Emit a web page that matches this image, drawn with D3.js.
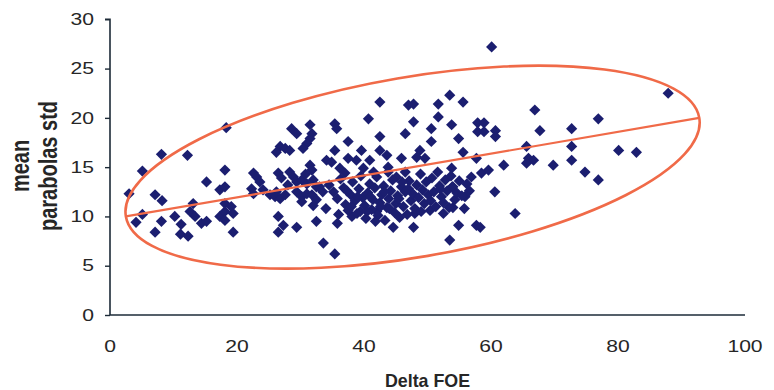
<!DOCTYPE html>
<html>
<head>
<meta charset="utf-8">
<script src="https://cdn.jsdelivr.net/npm/d3@7"></script>
<style>
  html, body { margin: 0; padding: 0; background: #ffffff; }
  svg { display: block; }
</style>
</head>
<body>
<svg id="chart" width="774" height="390"></svg>
<script>
// ---------------- data ----------------
const xTicks = [0, 20, 40, 60, 80, 100];
const yTicks = [0, 5, 10, 15, 20, 25, 30];
const xTitle = "Delta FOE";
const yTitleLines = ["mean", "parabolas std"];

// Delta FOE values
const deltaFOE = [
  3.0,4.1,5.1,5.1,7.1,8.2,8.1,8.1,7.1,10.2,11.2,11.1,12.3,12.2,13.1,12.6,13.4,14.4,15.2,15.2,17.3,18.1,18.1,18.3,18.1,17.3,18.1,18.1,19.1,19.4,19.4,
  22.6,23.1,23.6,22.3,22.6,24.1,28.6,29.4,31.5,31.8,31.5,31.0,30.4,26.8,27.6,28.3,26.2,31.5,31.8,34.1,26.5,27.0,28.3,28.9,29.4,30.2,31.0,32.0,32.5,
  25.2,26.0,26.8,27.6,26.2,29.4,30.2,31.0,31.8,32.5,32.0,30.2,26.5,27.3,26.5,29.4,32.5,33.6,33.5,34.0,
  42.5,47.0,40.7,35.4,35.7,46.5,42.5,37.5,35.4,39.6,42.5,43.6,45.9,37.5,38.8,40.9,34.9,36.2,37.0,39.9,41.5,43.8,45.1,46.5,35.4,35.8,38.1,39.4,44.6,42.0,
  53.5,55.6,51.7,47.8,51.7,53.8,47.8,50.6,57.9,58.9,57.9,58.9,54.9,50.6,55.6,48.8,48.3,49.6,57.7,58.5,53.8,56.9,54.9,57.7,53.5,47.8,48.0,52.5,54.0,55.9,53.9,
  60.1,66.9,60.7,60.7,67.7,65.6,65.9,66.7,65.6,69.8,62.0,59.6,60.6,63.8,58.3,
  72.7,72.7,72.7,76.9,80.1,82.9,74.8,76.9,87.9,
  34.5,35.2,35.8,36.3,36.8,37.1,37.5,37.9,38.2,38.6,38.9,39.2,39.5,39.8,40.1,40.3,40.6,40.9,41.2,41.4,41.7,42.0,42.2,42.5,42.8,43.1,43.3,43.6,43.9,44.2,
  44.5,44.8,45.0,45.3,45.6,45.9,46.2,46.5,46.8,47.1,47.4,47.7,48.0,48.3,48.6,48.9,49.2,49.5,49.8,50.1,50.4,50.7,51.0,51.3,51.6,51.9,52.2,52.5,52.8,53.1,
  53.4,53.7,54.0,54.3,54.6,55.0,55.4,55.8,56.2,56.6,
  38.0,39.0,40.5,41.0,42.6,43.2,44.0,45.5,46.0,47.0,36.0,37.3,41.8,43.8,49.0,50.5,52.0,33.0,30.8,28.0
];
// mean parabolas std values
const meanStd = [
  12.3,9.4,10.2,14.6,12.2,11.6,16.3,9.5,8.4,10.0,9.2,8.2,8.0,16.2,11.3,10.5,10.0,9.3,9.5,13.5,10.0,10.5,9.6,19.0,14.7,12.7,13.0,11.3,11.0,8.4,10.3,
  14.4,14.0,13.5,12.8,12.3,12.7,18.9,18.4,19.3,18.4,17.9,17.4,16.9,17.1,16.9,16.7,16.5,15.2,14.7,15.7,14.4,13.9,14.5,14.0,13.5,13.7,13.3,13.7,13.0,
  12.2,12.0,11.8,12.2,12.5,12.5,12.0,12.3,12.2,11.7,11.1,11.5,10.0,9.1,8.4,8.9,9.5,7.3,12.5,10.8,
  21.6,21.3,19.9,19.4,18.9,18.4,18.1,17.6,16.7,16.7,16.7,16.2,15.9,15.9,15.7,15.7,15.5,14.9,14.4,14.9,14.5,15.0,14.0,14.5,6.2,9.3,10.0,10.5,8.9,10.5,
  22.3,21.6,21.4,21.4,20.1,19.3,19.6,18.9,19.5,19.5,18.6,18.6,17.9,17.6,16.5,16.7,16.0,15.9,15.9,14.4,14.9,14.0,9.1,9.1,7.6,8.9,10.3,10.3,10.9,12.0,13.0,
  27.2,20.8,18.7,18.1,18.7,17.1,15.9,15.7,15.4,15.2,15.2,14.7,12.5,10.3,8.9,
  18.9,17.1,15.7,19.9,16.7,16.5,14.5,13.7,22.5,
  13.2,12.5,11.8,13.8,12.9,11.2,10.6,12.2,13.5,11.6,10.3,12.8,14.1,11.9,11.1,9.8,12.4,13.3,10.7,11.7,12.9,14.0,10.1,11.4,12.2,13.1,9.6,10.9,11.8,12.6,
  13.7,10.4,11.3,12.1,9.9,13.0,11.0,12.5,10.2,13.6,11.6,12.3,10.8,13.2,11.9,14.3,12.7,11.3,13.5,12.2,10.6,13.9,12.5,11.0,14.5,13.1,12.0,11.4,13.7,12.6,
  10.9,14.1,13.0,11.7,12.4,13.6,12.1,10.8,13.3,12.6,
  11.0,12.0,10.5,12.0,11.0,12.5,10.8,11.8,13.5,12.8,10.2,12.6,9.5,14.5,10.5,11.6,12.8,13.0,14.3,13.2
];
// fitted line / ellipse major axis end points (data units)
const fitX = [2.5, 92.8];
const fitY = [10.0, 20.0];

// ---------------- layout ----------------
const W = 774, H = 390;
const plotLeft = 110, plotRight = 745, plotTop = 19.3, plotBottom = 315;
const sx = 1.28; // horizontal text stretch of the original image
const axisColor = "#1d2b38";
const textColor = "#262626";
const markColor = "#1b1e70";
const fitColor = "#f06a48";
const ellipseMinorPx = 90;

const svg = d3.select("#chart");
const x = d3.scaleLinear().domain([0, 100]).range([plotLeft, plotRight]);
const y = d3.scaleLinear().domain([0, 30]).range([plotBottom, plotTop]);

// fit ellipse & line
const p1 = [x(fitX[0]), y(fitY[0])], p2 = [x(fitX[1]), y(fitY[1])];
const cx = (p1[0] + p2[0]) / 2, cy = (p1[1] + p2[1]) / 2;
const a = Math.hypot(p2[0] - p1[0], p2[1] - p1[1]) / 2;
const ang = Math.atan2(p2[1] - p1[1], p2[0] - p1[0]) * 180 / Math.PI;

// points
const pts = deltaFOE.map((d, i) => [d, meanStd[i]]);
const diamond = "M0,-5.6L5.6,0L0,5.6L-5.6,0Z";
svg.append("g").selectAll("path").data(pts).join("path")
  .attr("d", diamond)
  .attr("transform", d => `translate(${x(d[0])},${y(d[1])})`)
  .attr("fill", markColor);

svg.append("ellipse")
  .attr("cx", 0).attr("cy", 0).attr("rx", a).attr("ry", ellipseMinorPx)
  .attr("transform", `translate(${cx},${cy}) rotate(${ang})`)
  .attr("fill", "none").attr("stroke", fitColor).attr("stroke-width", 2.6);

svg.append("line")
  .attr("x1", p1[0]).attr("y1", p1[1]).attr("x2", p2[0]).attr("y2", p2[1])
  .attr("stroke", fitColor).attr("stroke-width", 2.2);

// axes
const yAxis = d3.axisLeft(y).tickValues(yTicks).tickSize(5).tickFormat("");
const gy = svg.append("g").attr("transform", `translate(${plotLeft},0)`).call(yAxis);
gy.select(".domain").attr("stroke", axisColor).attr("stroke-width", 1.6).attr("d", `M-5,${plotTop}H0V${plotBottom}`);
gy.selectAll(".tick line").attr("stroke", axisColor).attr("stroke-width", 1.4);

const xAxis = d3.axisBottom(x).tickValues(xTicks).tickSize(0).tickFormat("");
const gx = svg.append("g").attr("transform", `translate(0,${plotBottom})`).call(xAxis);
gx.select(".domain").attr("stroke", axisColor).attr("stroke-width", 1.6).attr("d", `M${plotLeft},0H${plotRight}`);

function stretchedText(g, tx, ty, str, opts) {
  const s = opts.stretch !== undefined ? opts.stretch : sx;
  const gg = g.append("g").attr("transform", `translate(${tx},${ty}) scale(${s},1)` + (opts.rotate ? ` rotate(${opts.rotate})` : ""));
  gg.append("text")
    .attr("x", 0).attr("y", 0)
    .attr("text-anchor", opts.anchor || "middle")
    .attr("dy", opts.dy || 0)
    .attr("font-family", "'Liberation Sans', Arial, sans-serif")
    .attr("font-size", opts.size)
    .attr("font-weight", opts.weight || "normal")
    .attr("fill", textColor)
    .text(str);
}

const labels = svg.append("g");
yTicks.forEach(t => stretchedText(labels, 94, y(t), String(t), {anchor: "end", size: 16.5, dy: "0.35em"}));
xTicks.forEach(t => stretchedText(labels, x(t), 352, String(t), {anchor: "middle", size: 16.5}));
stretchedText(labels, (plotLeft + plotRight) / 2, 387, xTitle, {anchor: "middle", size: 17.5, weight: "bold", stretch: 1.02});
stretchedText(labels, 29, 166, yTitleLines[0], {anchor: "middle", size: 20, weight: "bold", rotate: -90});
stretchedText(labels, 57, 166, yTitleLines[1], {anchor: "middle", size: 20, weight: "bold", rotate: -90});
</script>
</body>
</html>
